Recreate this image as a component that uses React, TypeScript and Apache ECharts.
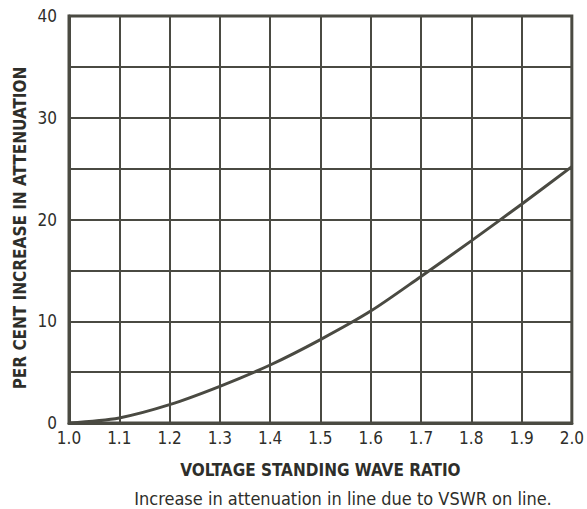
import React, { useEffect, useRef } from "react";
import * as echarts from "echarts";

const vswr = [1.0, 1.1, 1.2, 1.3, 1.4, 1.5, 1.6, 1.7, 1.8, 1.9, 2.0];
const increase = [0, 0.5, 1.8, 3.6, 5.7, 8.2, 11.0, 14.4, 17.9, 21.5, 25.2];
const yTickLabels = ["0", "10", "20", "30", "40"];
const xAxisName = "VOLTAGE STANDING WAVE RATIO";
const yAxisName = "PER CENT INCREASE IN ATTENUATION";
const caption = "Increase in attenuation in line due to VSWR on line.";

const FONT = '"Liberation Sans Narrow", "DejaVu Sans Condensed", "Roboto Condensed", sans-serif';
const INK = "#4a4a42";
const TEXT = "#2e2e2a";

export default function App() {
  const ref = useRef<HTMLDivElement>(null);
  useEffect(() => {
    if (!ref.current) return;
    const chart = echarts.init(ref.current, null, { renderer: "svg" });
    chart.setOption({
      animation: false,
      backgroundColor: "#ffffff",
      grid: { left: 69, right: 15, top: 16, bottom: 86, show: true, borderColor: INK, borderWidth: 3 },
      title: {
        text: caption,
        left: 338,
        textAlign: "center",
        top: 484,
        textStyle: { fontFamily: FONT, fontSize: 18, fontWeight: "normal", color: TEXT },
      },
      graphic: [
        {
          type: "text",
          x: 20,
          y: 228,
          rotation: Math.PI / 2,
          style: {
            text: yAxisName,
            fontFamily: FONT,
            fontSize: 17,
            fontWeight: "bold",
            fill: TEXT,
            align: "center",
            verticalAlign: "middle",
          },
        },
      ],
      xAxis: {
        type: "value",
        min: 1.0,
        max: 2.0,
        interval: 0.1,
        name: xAxisName,
        nameLocation: "middle",
        nameGap: 38,
        nameTextStyle: { fontFamily: FONT, fontSize: 17, fontWeight: "bold", color: TEXT },
        axisLine: { show: true, lineStyle: { color: INK, width: 3 } },
        axisTick: { show: false },
        axisLabel: {
          margin: 6,
          fontFamily: FONT,
          fontSize: 17,
          color: TEXT,
          formatter: (v: number) => v.toFixed(1),
        },
        splitLine: { show: true, lineStyle: { color: INK, width: 2 } },
      },
      yAxis: {
        type: "value",
        min: 0,
        max: 40,
        interval: 5,
        axisLine: { show: true, lineStyle: { color: INK, width: 3 } },
        axisTick: { show: false },
        axisLabel: {
          margin: 12,
          fontFamily: FONT,
          fontSize: 17,
          color: TEXT,
          formatter: (v: number) => (yTickLabels.includes(String(v)) ? String(v) : ""),
        },
        splitLine: { show: true, lineStyle: { color: INK, width: 2 } },
      },
      series: [
        {
          type: "line",
          data: vswr.map((x, i) => [x, increase[i]]),
          smooth: 0.3,
          showSymbol: false,
          lineStyle: { color: INK, width: 3 },
        },
      ],
    });
    return () => chart.dispose();
  }, []);
  return <div ref={ref} style={{ width: 587, height: 509, position: "absolute", left: 0, top: 0 }} />;
}
